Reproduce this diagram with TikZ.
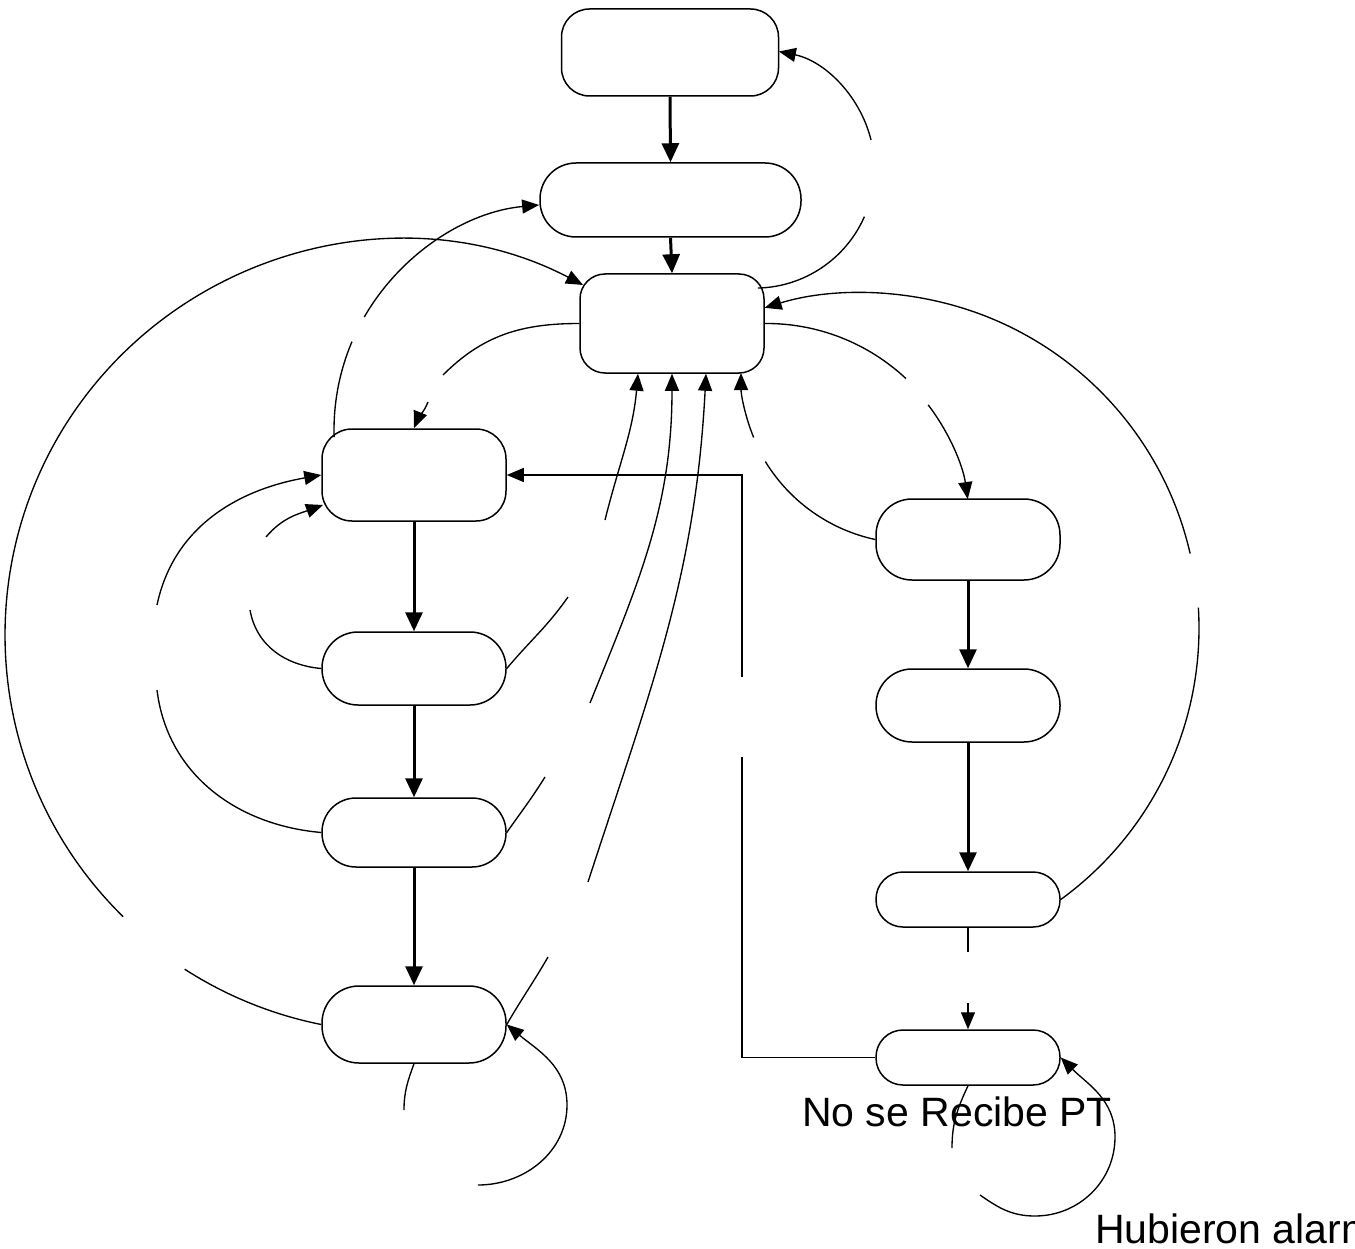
\documentclass[tikz,border=0pt]{standalone}
\usepackage{fontspec}
\setmainfont{Liberation Sans}
\usetikzlibrary{arrows.meta}
\begin{document}
\begin{tikzpicture}[x=1pt,y=1pt]
\tikzset{
  box/.style={draw, line width=1.5pt, rounded corners=#1, inner sep=0pt, minimum width=184pt},
  ln/.style={line width=1.35pt},
  tk/.style={line width=3pt, -{Triangle[length=19pt,width=17pt]}},
  ar/.style={line width=1.35pt, -{Triangle[length=17pt,width=14pt]}},
  lbl/.style={font=\fontsize{41pt}{45pt}\selectfont, inner sep=0pt},
}
\useasboundingbox (0,0) rectangle (1355,-1249);
% nodes
\node[box=28pt, minimum width=217pt, minimum height=87pt] (N1) at (670,-52.5) {};
\node[box=36pt, minimum width=261pt, minimum height=74pt] (N2) at (670.5,-200) {};
\node[box=25pt, minimum height=99pt] (N3) at (672,-323.5) {};
\node[box=30pt, minimum height=92pt] (L1) at (414,-475) {};
\node[box=36pt, minimum height=73pt] (L2) at (414,-668.5) {};
\node[box=34pt, minimum height=69pt] (L3) at (414,-832.5) {};
\node[box=37pt, minimum height=77pt] (L4) at (414,-1024.5) {};
\node[box=36pt, minimum height=81pt] (R1) at (968,-539.5) {};
\node[box=36pt, minimum height=73pt] (R2) at (968,-705.5) {};
\node[box=27pt, minimum height=55pt] (R3) at (968,-899.5) {};
\node[box=27pt, minimum height=55pt] (R4) at (968,-1057.5) {};
% arc centres
\coordinate (cA) at (755,-168.6);
\coordinate (cB) at (400,-635);
\coordinate (cC) at (560,-430);
\coordinate (cL) at (765.9,-528.5);
\coordinate (cK) at (911.7,-373);
\coordinate (cM) at (863.2,-628.4);
% gap coordinates
\coordinate (a0) at ([shift={(-88.6:119.5pt)}]cA);
\coordinate (a2) at ([shift={(13.9:119.5pt)}]cA);
\coordinate (b2) at ([shift={(225.5:395pt)}]cB);
\coordinate (c0) at ([shift={(181.8:226pt)}]cC);
\coordinate (c2) at ([shift={(150:226pt)}]cC);
\coordinate (l2) at ([shift={(37.3:204pt)}]cL);
\coordinate (k2) at ([shift={(202.2:170.7pt)}]cK);
\coordinate (m2) at ([shift={(12.9:335.4pt)}]cM);
\coordinate (d1) at (443,-375);
\coordinate (d2) at (428,-402);
\coordinate (e1) at (250,-610);
\coordinate (e2) at (266,-537);
\coordinate (e3) at (323,-505);
\coordinate (f1) at (157,-690);
\coordinate (f2) at (157,-605);
\coordinate (g1) at (568,-597);
\coordinate (g2) at (605,-520);
\coordinate (h1) at (545,-777);
\coordinate (h2) at (590,-703);
\coordinate (i1) at (548,-957);
\coordinate (i2) at (588,-882);
\coordinate (j1) at (404,-1110);
\coordinate (j2) at (478,-1185);
\coordinate (n1) at (742,-757);
\coordinate (n2) at (742,-677);
\coordinate (o1) at (952,-1148);
\coordinate (o2) at (980,-1195);
\coordinate (r1) at (968,-952);
\coordinate (r2) at (968,-1003);
% straight thick arrows
\draw[tk] (N1.south) -- (N2.north);
\draw[tk] (N2.south) -- (N3.north);
\draw[tk] (L1.south) -- (L2.north);
\draw[tk] (L2.south) -- (L3.north);
\draw[tk] (L3.south) -- (L4.north);
\draw[tk] (R1.south) -- (R2.north);
\draw[tk] (R2.south) -- (R3.north);
% R3 -> R4 with gap
\draw[ln] (R3.south) -- (r1);
\draw[ar] (r2) -- (R4.north);
% A: N3 -> N1
\draw[ln] (a0) arc[start angle=-88.6, end angle=-23.7, radius=119.5pt];
\draw[ar] (a2) arc[start angle=13.9, end angle=78.5, radius=119.5pt];
% B: L4 -> N3 big arc
\draw[ln] (L4.west) arc[start angle=258.7, end angle=237.2, radius=395pt];
\draw[ar] (b2) arc[start angle=225.5, end angle=62.4, radius=395pt];
% C: L1 -> N2
\draw[ln] (c0) arc[start angle=181.8, end angle=157, radius=226pt];
\draw[ar] (c2) arc[start angle=150, end angle=95.3, radius=226pt];
% D: N3 -> L1
\draw[ln] (N3.west) to[out=180,in=45] (d1);
\draw[ar] (d2) to[out=-112,in=68] (L1.north);
% E: L2 -> L1
\draw[ln] (L2.west) to[out=175,in=-80] (e1);
\draw[ar] (e2) to[out=50,in=200] (e3);
% F: L3 -> L1
\draw[ln] (L3.west) to[out=175,in=-83] (f1);
\draw[ar] (f2) to[out=78,in=190] (L1.west);
% G: L2 -> N3
\draw[ln] (L2.east) to[out=50,in=-125] (g1);
\draw[ar] (g2) to[out=76,in=-95] ([xshift=-34pt]N3.south);
% H: L3 -> N3
\draw[ln] (L3.east) to[out=55,in=-122] (h1);
\draw[ar] (h2) to[out=68,in=-90] (N3.south);
% I: L4 -> N3
\draw[ln] (L4.east) to[out=60,in=-120] (i1);
\draw[ar] (i2) to[out=72,in=-93] ([xshift=34pt]N3.south);
% J: L4 self loop
\draw[ln] (L4.south) to[out=-110,in=90] (j1);
\draw[ar] (j2) to[out=0,in=-90] (567,-1105) to[out=90,in=-40] (L4.east);
% K: R1 -> N3
\draw[ln] (R1.west) arc[start angle=257.9, end angle=211.4, radius=170.7pt];
\draw[ar] (k2) arc[start angle=202.2, end angle=180, radius=170.7pt];
% L: N3 -> R1
\draw[ln] (N3.east) arc[start angle=90.5, end angle=46.9, radius=204pt];
\draw[ar] (l2) arc[start angle=37.3, end angle=8.3, radius=204pt];
% M: R3 -> N3
\draw[ln] (R3.east) arc[start angle=-54, end angle=3.5, radius=335.4pt];
\draw[ar] (m2) arc[start angle=12.9, end angle=107.1, radius=335.4pt];
% N: R4 -> L1 orthogonal
\draw[ln] (R4.west) -- (742,-1057.5) -- (n1);
\draw[ar] (n2) -- (742,-475) -- (L1.east);
% O: R4 self loop
\draw[ln] (R4.south) to[out=-115,in=90] (o1);
\draw[ar] (o2) to[out=-35,in=180] (1035,-1216) to[out=0,in=-90] (1115,-1137) to[out=90,in=-45] (R4.east);
% labels
\node[lbl, anchor=base west] (t1) at (802,-1126) {No se Recibe PT};
\node[lbl, anchor=base west] (t2) at (1095,-1243) {Hubieron alarm};
\end{tikzpicture}
\end{document}
